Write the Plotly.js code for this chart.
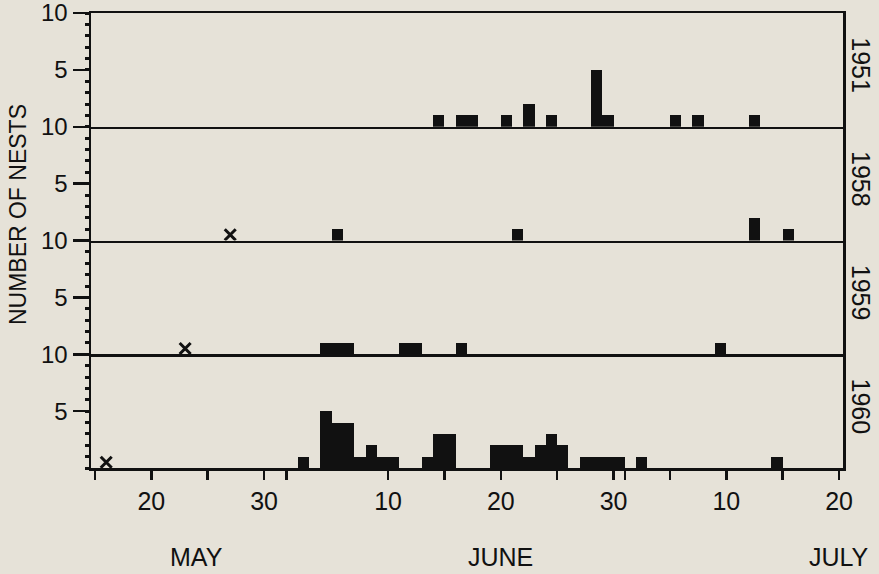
<!DOCTYPE html>
<html>
<head>
<meta charset="utf-8">
<script src="https://cdn.plot.ly/plotly-3.0.1.min.js"></script>
<style>
  html, body { margin: 0; padding: 0; background: #e6e2d8; }
  #chart { width: 879px; height: 574px; }
</style>
</head>
<body>
<div id="chart"></div>
<script>
// ---- data (dates; counts = number of nests) ----
const years = ['1951', '1958', '1959', '1960'];

const dates1951 = ['Jun 14','Jun 16','Jun 17','Jun 20','Jun 22','Jun 24','Jun 28','Jun 29','Jul 5','Jul 7','Jul 12'];
const nests1951 = [1, 1, 1, 1, 2, 1, 5, 1, 1, 1, 1];

const dates1958 = ['Jun 5','Jun 21','Jul 12','Jul 15'];
const nests1958 = [1, 1, 2, 1];

const dates1959 = ['Jun 4','Jun 5','Jun 6','Jun 11','Jun 12','Jun 16','Jul 9'];
const nests1959 = [1, 1, 1, 1, 1, 1, 1];

const dates1960 = ['Jun 2','Jun 4','Jun 5','Jun 6','Jun 7','Jun 8','Jun 9','Jun 10','Jun 13','Jun 14','Jun 15',
                   'Jun 19','Jun 20','Jun 21','Jun 22','Jun 23','Jun 24','Jun 25','Jun 27','Jun 28','Jun 29','Jun 30',
                   'Jul 2','Jul 14'];
const nests1960 = [1, 5, 4, 4, 1, 2, 1, 1, 1, 3, 3,
                   2, 2, 2, 1, 2, 3, 2, 1, 1, 1, 1,
                   1, 1];

// dates marked with an "x" (no nest count) in 1958, 1959, 1960
const crossYears = ['1958', '1959', '1960'];
const crossDates = ['May 27', 'May 23', 'May 16'];
const crossLevel = [0.5, 0.5, 0.5];

const xTickDates = ['May 15','May 20','May 25','May 30','Jun 1','Jun 10','Jun 15','Jun 20','Jun 25','Jun 30','Jul 1','Jul 5','Jul 10','Jul 15','Jul 20'];
const xTickText  = ['', '20', '', '30', '', '10', '', '20', '', '30', '', '', '10', '', '20'];
const xRangeDates = ['May 15', 'Jul 20'];

const monthLabels = ['MAY', 'JUNE', 'JULY'];
const monthLabelDates = ['May 24', 'Jun 20', 'Jul 20'];

const yTickVals = [5, 10];
const yTickText = ['5', '10'];
const yRange = [0, 10];
const yTitle = 'NUMBER OF NESTS';

// ---- helpers ----
const monthOffset = { May: 0, Jun: 31, Jul: 61 };
function day(s) { const p = s.split(' '); return monthOffset[p[0]] + Number(p[1]); }

const FONT = 'Liberation Sans, Arial, sans-serif';
const INK = '#111111';
const X_PAD = 0.35; // small margin between frame and first/last tick

// panel order top -> bottom: 1951, 1958, 1959, 1960
const panelDates = [dates1951, dates1958, dates1959, dates1960];
const panelNests = [nests1951, nests1958, nests1959, nests1960];
const yNames = ['y', 'y2', 'y3', 'y4'];
const xNames = ['x2', 'x3', 'x4', 'x'];

const traces = [];
for (let i = 0; i < 4; i++) {
  traces.push({
    type: 'bar',
    x: panelDates[i].map(day),
    y: panelNests[i],
    width: 1,
    offset: 0,
    marker: { color: INK, line: { width: 0 } },
    xaxis: xNames[i],
    yaxis: yNames[i],
    name: years[i]
  });
}
for (let k = 0; k < crossYears.length; k++) {
  const i = years.indexOf(crossYears[k]);
  traces.push({
    type: 'scatter',
    mode: 'markers',
    x: [day(crossDates[k])],
    y: [crossLevel[k]],
    marker: { symbol: 'x-thin', size: 11, color: INK, line: { color: INK, width: 3 } },
    xaxis: xNames[i],
    yaxis: yNames[i],
    name: crossYears[k] + ' x'
  });
}

const xr = xRangeDates.map(day);
const xRange = [xr[0] - X_PAD, xr[1] + X_PAD];
const baseX = {
  range: xRange,
  showgrid: false,
  zeroline: false,
  showline: true,
  linecolor: INK,
  linewidth: 2.5,
  fixedrange: true
};

function yAxis(domain, anchor) {
  return {
    domain: domain,
    anchor: anchor,
    range: yRange,
    tickvals: yTickVals,
    ticktext: yTickText,
    ticks: 'outside',
    ticklen: 16,
    tickwidth: 2.5,
    tickcolor: INK,
    ticklabeloverflow: 'allow',
    tickfont: { family: FONT, size: 24, color: INK },
    minor: { tickmode: 'linear', tick0: 0, dtick: 1, ticks: 'outside', ticklen: 4, tickwidth: 3, tickcolor: INK, showgrid: false },
    showgrid: false,
    zeroline: false,
    showline: true,
    mirror: true,
    linecolor: INK,
    linewidth: 2.5,
    fixedrange: true
  };
}

const annotations = [];
const panelDomains = [[0.75, 1], [0.5, 0.75], [0.25, 0.5], [0, 0.25]];
for (let i = 0; i < 4; i++) {
  annotations.push({
    text: years[i], xref: 'paper', yref: 'paper',
    x: 1.024, y: (panelDomains[i][0] + panelDomains[i][1]) / 2 + 0.01,
    xanchor: 'center', yanchor: 'middle',
    textangle: 90, showarrow: false,
    font: { family: FONT, size: 25, color: INK }
  });
}
for (let m = 0; m < monthLabels.length; m++) {
  annotations.push({
    text: monthLabels[m], xref: 'x', yref: 'paper',
    x: day(monthLabelDates[m]), y: -0.196,
    xanchor: 'center', yanchor: 'middle',
    showarrow: false,
    font: { family: FONT, size: 25, color: INK }
  });
}
annotations.push({
  text: yTitle, xref: 'paper', yref: 'paper',
  x: -0.097, y: 0.556, xanchor: 'center', yanchor: 'middle',
  textangle: -90, showarrow: false,
  font: { family: FONT, size: 23, color: INK }
});

const layout = {
  width: 879,
  height: 574,
  margin: { l: 91, r: 36, t: 13, b: 106 },
  paper_bgcolor: '#e6e2d8',
  plot_bgcolor: '#e6e2d8',
  showlegend: false,
  bargap: 0,
  font: { family: FONT, color: INK },
  xaxis: Object.assign({}, baseX, {
    anchor: 'y4',
    tickvals: xTickDates.map(day),
    ticktext: xTickText,
    ticks: 'outside',
    ticklen: 9,
    tickwidth: 2.5,
    tickcolor: INK,
    tickfont: { family: FONT, size: 25, color: INK }
  }),
  xaxis2: Object.assign({}, baseX, { anchor: 'y', matches: 'x', showticklabels: false, ticks: '', mirror: true }),
  xaxis3: Object.assign({}, baseX, { anchor: 'y2', matches: 'x', showticklabels: false, ticks: '' }),
  xaxis4: Object.assign({}, baseX, { anchor: 'y3', matches: 'x', showticklabels: false, ticks: '' }),
  yaxis: yAxis(panelDomains[0], 'x2'),
  yaxis2: yAxis(panelDomains[1], 'x3'),
  yaxis3: yAxis(panelDomains[2], 'x4'),
  yaxis4: yAxis(panelDomains[3], 'x'),
  annotations: annotations
};

Plotly.newPlot('chart', traces, layout, { displayModeBar: false, staticPlot: true });
</script>
</body>
</html>
